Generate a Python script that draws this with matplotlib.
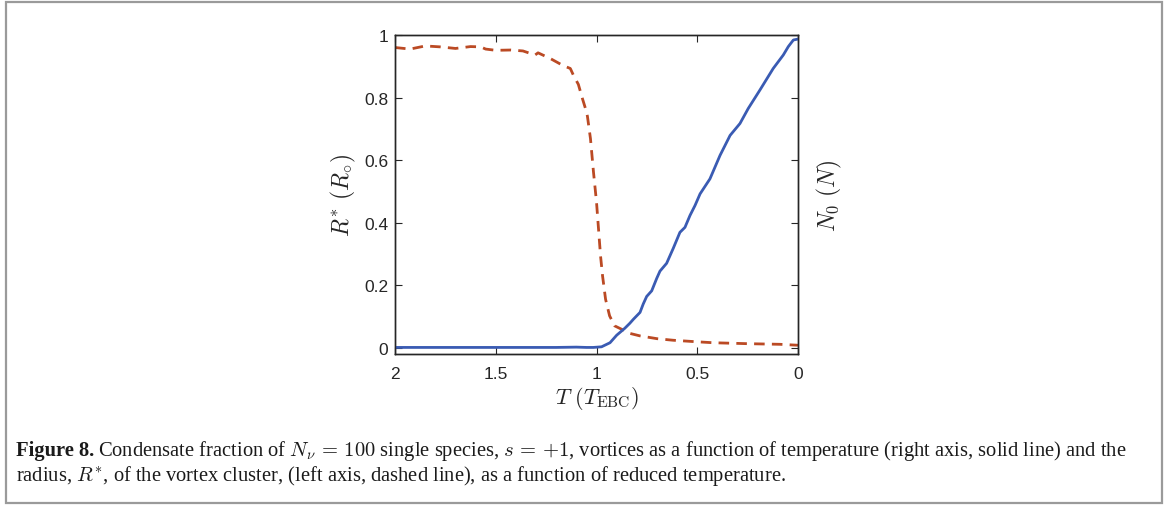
import matplotlib
matplotlib.use("Agg")
import matplotlib.pyplot as plt
from matplotlib.patches import Rectangle

# ---- data ----
R_T = [2.0, 1.925, 1.85, 1.775, 1.70, 1.625, 1.575, 1.55, 1.50, 1.425, 1.365,
       1.305, 1.29, 1.23, 1.165, 1.13, 1.115, 1.09, 1.07, 1.05, 1.045, 1.03,
       1.015, 1.0, 0.99, 0.98, 0.97, 0.955, 0.935, 0.91, 0.875, 0.835, 0.785,
       0.70, 0.62, 0.50, 0.42, 0.25, 0.09, 0.0]
R_vals = [0.960, 0.955, 0.965, 0.962, 0.957, 0.963, 0.962, 0.955, 0.951, 0.952,
          0.949, 0.936, 0.943, 0.925, 0.902, 0.893, 0.872, 0.842, 0.797, 0.755,
          0.740, 0.669, 0.562, 0.466, 0.380, 0.294, 0.230, 0.155, 0.102, 0.070,
          0.059, 0.046, 0.038, 0.029, 0.024, 0.019, 0.016, 0.013, 0.011, 0.008]

N_T = [2.0, 1.5, 1.2, 1.1, 1.05, 1.016, 0.975, 0.933, 0.90, 0.86, 0.835, 0.817,
       0.784, 0.768, 0.751, 0.726, 0.701, 0.685, 0.652, 0.619, 0.586, 0.561,
       0.536, 0.511, 0.486, 0.437, 0.387, 0.337, 0.288, 0.247, 0.189, 0.123,
       0.073, 0.048, 0.023, 0.0]
N_vals = [0.001, 0.001, 0.001, 0.002, 0.001, 0.001, 0.003, 0.016, 0.040, 0.062,
          0.078, 0.091, 0.113, 0.140, 0.164, 0.182, 0.222, 0.245, 0.270, 0.318,
          0.369, 0.385, 0.423, 0.455, 0.492, 0.540, 0.615, 0.679, 0.717, 0.765,
          0.824, 0.893, 0.936, 0.963, 0.984, 0.987]

x_ticks = [2, 1.5, 1, 0.5, 0]
x_ticklabels = ["2", "1.5", "1", "0.5", "0"]
y_ticks = [0, 0.2, 0.4, 0.6, 0.8, 1]
y_ticklabels = ["0", "0.2", "0.4", "0.6", "0.8", "1"]

BLUE = "#3a5bb3"
RED = "#bb4a24"
DARK = "#262626"

plt.rcParams["mathtext.fontset"] = "cm"
plt.rcParams["font.family"] = ["Liberation Sans", "DejaVu Sans"]

fig = plt.figure(figsize=(11.68, 5.06), dpi=100)
W, H = 1168, 506

ax = fig.add_axes([395 / W, 1 - 355 / H, (798 - 395) / W, (355 - 36) / H])
ax2 = ax.twinx()

ax.plot(R_T, R_vals, color=RED, lw=2.0, ls=(0, (3.8, 2.6)))
ax2.plot(N_T, N_vals, color=BLUE, lw=2.0)

for a in (ax, ax2):
    a.set_xlim(2, 0)
    a.set_ylim(-0.02, 1)
    for s in a.spines.values():
        s.set_color(DARK)
        s.set_linewidth(1.0)

ax.set_xticks(x_ticks)
ax.set_xticklabels(x_ticklabels)
ax.set_yticks(y_ticks)
ax.set_yticklabels(y_ticklabels)
ax2.set_yticks(y_ticks)
ax2.set_yticklabels([])

ax.tick_params(direction="in", length=5, width=0.8, colors=DARK,
               labelsize=12.5, top=True, pad=5)
ax.tick_params(axis="x", pad=9)
ax2.tick_params(direction="in", length=5, width=0.8, colors=DARK,
                right=True, labelright=False)

ax.set_xlabel(r"$T\ (T_{\mathrm{EBC}})$", fontsize=16, color=DARK, labelpad=2)
ax.set_ylabel(r"$R^{*}\ (R_{\circ})$", fontsize=17, color=DARK, labelpad=4)
ax2.set_ylabel(r"$N_{0}\ (N)$", fontsize=17, color=DARK, labelpad=12)

# figure border
fig.patches.append(Rectangle((6 / W, 1 - 504 / H), (1162 - 6) / W, (504 - 3) / H,
                             transform=fig.transFigure, fill=False,
                             edgecolor="#9a9a9a", lw=1.6))

# caption
serif = ["Liberation Serif", "DejaVu Serif"]
cap_size = 14.8
y1 = 1 - 456 / H
y2 = 1 - 481 / H
t_bold = fig.text(16 / W, y1, "Figure 8.", fontsize=cap_size, family=serif,
                  weight="bold", va="baseline", ha="left", color="#1a1a1a")
fig.canvas.draw()
bb = t_bold.get_window_extent()
fig.text(bb.x1 / W + 4 / W, y1,
         r"Condensate fraction of $N_{\nu}\,=\,100$ single species, $s\,=\,{+}1$, "
         r"vortices as a function of temperature (right axis, solid line) and the",
         fontsize=cap_size, family=serif, va="baseline", ha="left", color="#1a1a1a")
fig.text(16 / W, y2,
         r"radius, $R^{*}$, of the vortex cluster, (left axis, dashed line), "
         r"as a function of reduced temperature.",
         fontsize=cap_size, family=serif, va="baseline", ha="left", color="#1a1a1a")

fig.savefig("out.png", dpi=100)
